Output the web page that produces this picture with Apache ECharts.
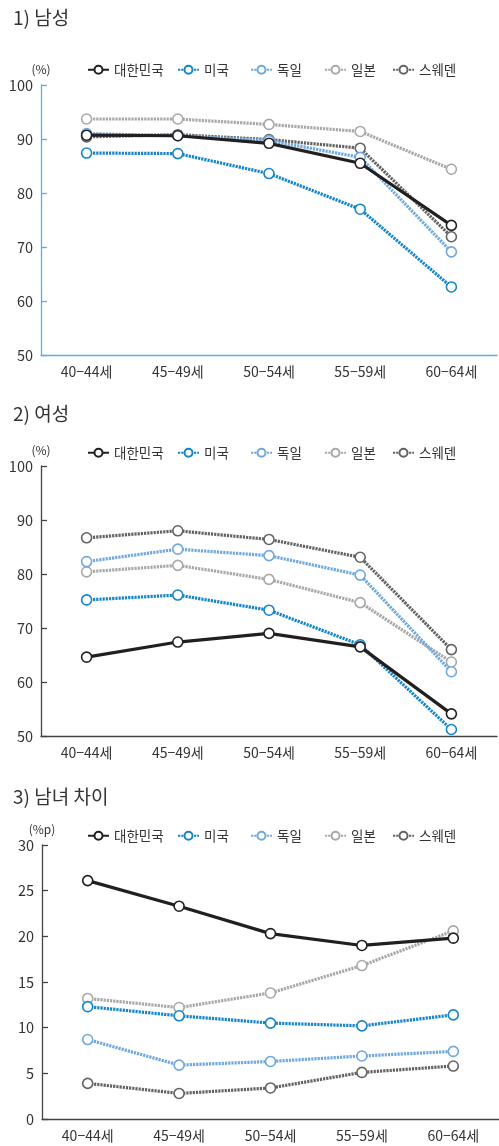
<!DOCTYPE html>
<html><head><meta charset="utf-8">
<script src="https://cdn.jsdelivr.net/npm/echarts@6/dist/echarts.min.js"></script>
<style>html,body{margin:0;padding:0;background:#fff}#c{width:499px;height:1146px}</style>
</head><body><div id="c"></div>
<script>
var categories = ['40−44세','45−49세','50−54세','55−59세','60−64세'];
var countries = ['대한민국','미국','독일','일본','스웨덴'];
var colors = ['#231f20','#1485c8','#6ea8de','#a8a8a8','#636363'];

// 1) 남성 (%)
var maleKorea  = [90.7, 90.6, 89.2, 85.5, 74.0];
var maleUS     = [87.4, 87.3, 83.6, 77.0, 62.6];
var maleGermany= [91.0, 90.6, 89.7, 86.6, 69.1];
var maleJapan  = [93.7, 93.7, 92.7, 91.4, 84.4];
var maleSweden = [90.4, 90.8, 89.9, 88.3, 71.9];

// 2) 여성 (%)
var femKorea   = [64.6, 67.4, 69.0, 66.5, 54.1];
var femUS      = [75.2, 76.1, 73.3, 66.9, 51.2];
var femGermany = [82.3, 84.6, 83.4, 79.8, 61.9];
var femJapan   = [80.4, 81.6, 79.0, 74.7, 63.7];
var femSweden  = [86.7, 88.0, 86.4, 83.1, 66.0];

// 3) 남녀 차이 (%p)
var gapKorea   = [26.1, 23.3, 20.3, 19.0, 19.8];
var gapUS      = [12.3, 11.3, 10.5, 10.2, 11.4];
var gapGermany = [8.7, 5.9, 6.3, 6.9, 7.4];
var gapJapan   = [13.2, 12.2, 13.8, 16.8, 20.6];
var gapSweden  = [3.9, 2.8, 3.4, 5.1, 5.8];

var titles = ['1) 남성','2) 여성','3) 남녀 차이'];
var yNames = ['(%)','(%)','(%p)'];
var yMin = [50, 50, 0], yMax = [100, 100, 30], yInt = [10, 10, 5];
var panels = [
  [maleKorea, maleUS, maleGermany, maleJapan, maleSweden],
  [femKorea, femUS, femGermany, femJapan, femSweden],
  [gapKorea, gapUS, gapGermany, gapJapan, gapSweden]
];

var FONT = '"Noto Sans CJK KR", "Noto Sans", sans-serif';
var gridTops = [85, 466, 845];
var gridHeights = [270, 270, 274];
var gridLefts = [41, 41, 42];
var gridWidths = [456, 456, 460];
var titleTops = [3, 399, 782];
var legendTops = [63, 446, 829];
var axisColors = ['#5aaee0', '#444444', '#444444'];
var legendLefts = [87, 177, 250, 324, 392];

var option = {
  backgroundColor: '#fff',
  animation: false,
  textStyle: {fontFamily: FONT},
  title: [], legend: [], grid: [], xAxis: [], yAxis: [], series: []
};

for (var p = 0; p < 3; p++) {
  option.title.push({text: titles[p], left: 8, top: titleTops[p],
    textStyle: {fontFamily: FONT, fontSize: 19, fontWeight: 'normal', color: '#333'}});
  for (var k = 0; k < 5; k++) {
    option.legend.push({data: [countries[k]], left: legendLefts[k], top: legendTops[p],
      padding: 0, itemWidth: 21, itemHeight: 10, itemGap: 0,
      textStyle: {fontFamily: FONT, fontSize: 13.5, color: '#333'}});
  }
  option.grid.push({left: gridLefts[p], top: gridTops[p], width: gridWidths[p], height: gridHeights[p]});
  option.xAxis.push({type: 'category', gridIndex: p, data: categories, boundaryGap: true,
    axisLine: {lineStyle: {color: axisColors[p], width: 1.3}},
    axisTick: {inside: true, length: 6, alignWithLabel: true, lineStyle: {color: axisColors[p], width: 1.3}},
    axisLabel: {fontFamily: FONT, fontSize: 14, color: '#333', margin: 10}});
  option.yAxis.push({type: 'value', gridIndex: p, min: yMin[p], max: yMax[p], interval: yInt[p],
    name: yNames[p], nameLocation: 'end', nameGap: 10,
    nameTextStyle: {fontFamily: FONT, fontSize: 12, color: '#333', align: 'center'},
    axisLine: {show: true, lineStyle: {color: axisColors[p], width: 1.3}},
    axisTick: {show: true, inside: true, length: 6, lineStyle: {color: axisColors[p], width: 1.3}},
    splitLine: {show: false},
    axisLabel: {fontFamily: FONT, fontSize: 14.5, color: '#333', margin: 8}});
  for (var s = 0; s < 5; s++) {
    option.series.push({
      name: countries[s], type: 'line', xAxisIndex: p, yAxisIndex: p,
      data: panels[p][s], z: s === 0 ? 10 : 5 - s + 2,
      symbol: 'circle', symbolSize: 10, showSymbol: true,
      lineStyle: {color: colors[s], width: s === 0 ? 3.2 : 3.2, type: s === 0 ? 'solid' : [2.2, 1], cap: 'butt'},
      itemStyle: {color: '#fff', borderColor: colors[s], borderWidth: 1.6},
      color: colors[s]
    });
  }
}

var chart = echarts.init(document.getElementById('c'), null, {renderer: 'canvas'});
chart.setOption(option);
</script>
</body></html>
